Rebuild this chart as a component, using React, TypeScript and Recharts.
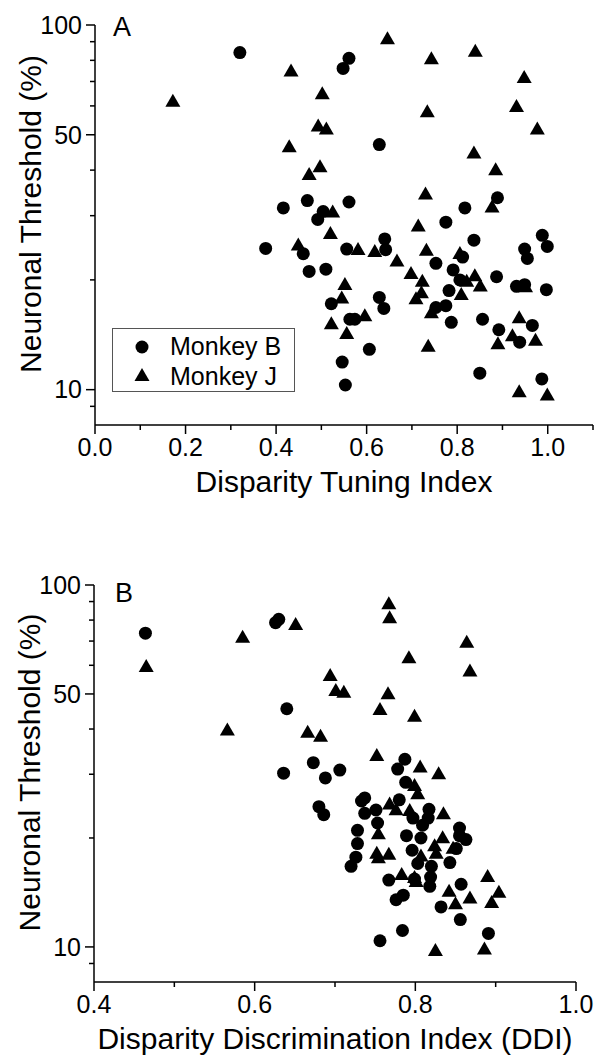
import { ScatterChart, Scatter, XAxis, YAxis, Legend, Label } from "recharts";

const FONT = '"Liberation Sans", Arial, Helvetica, sans-serif';

// Panel A: disparity tuning index vs. neuronal threshold (%)
const dtiMonkeyB: [number, number][] = [
  [0.32, 84], [0.548, 76], [0.561, 81], [0.628, 47], [0.469, 33], [0.416, 31.5],
  [0.561, 32.7], [0.504, 30.8], [0.492, 29.3], [0.377, 24.4], [0.46, 23.6], [0.556, 24.3],
  [0.473, 21.1], [0.51, 21.4], [0.522, 17.2], [0.563, 15.6], [0.546, 11.9], [0.553, 10.3],
  [0.817, 31.5], [0.889, 33.6], [0.775, 28.8], [0.837, 25.7], [0.64, 25.9], [0.642, 24.2],
  [0.812, 23.1], [0.753, 22.2], [0.791, 21.3], [0.806, 20.0], [0.887, 20.4], [0.782, 18.7],
  [0.775, 17.0], [0.753, 16.8], [0.787, 15.3], [0.856, 15.6], [0.931, 19.2], [0.949, 19.4],
  [0.997, 18.8], [0.988, 26.5], [0.999, 24.7], [0.949, 24.3], [0.955, 22.9], [0.892, 14.6],
  [0.966, 15.0], [0.938, 13.5], [0.628, 17.9], [0.638, 16.7], [0.574, 15.6], [0.606, 12.9],
  [0.85, 11.1], [0.987, 10.7],
];
const dtiMonkeyJ: [number, number][] = [
  [0.172, 62], [0.433, 75], [0.502, 65], [0.493, 53], [0.511, 52], [0.429, 46.5],
  [0.497, 41], [0.473, 39], [0.525, 30.8], [0.52, 26.9], [0.449, 25.0], [0.552, 19.5],
  [0.545, 17.9], [0.522, 15.2], [0.556, 14.3], [0.646, 92], [0.743, 81], [0.84, 85],
  [0.948, 72], [0.734, 58], [0.931, 60], [0.977, 52], [0.837, 44.7], [0.885, 40.2],
  [0.73, 34.5], [0.877, 31.8], [0.714, 28.2], [0.581, 24.3], [0.618, 24.0], [0.667, 22.6],
  [0.732, 24.2], [0.806, 23.7], [0.698, 20.9], [0.723, 19.9], [0.721, 18.5], [0.709, 17.8],
  [0.821, 19.9], [0.839, 20.6], [0.851, 19.3], [0.809, 18.3], [0.743, 16.3], [0.951, 19.2],
  [0.937, 15.8], [0.922, 14.1], [0.89, 13.4], [0.973, 13.7], [0.596, 16.0], [0.736, 13.2],
  [0.937, 9.9], [0.999, 9.7],
];

// Panel B: disparity discrimination index (DDI) vs. neuronal threshold (%)
const ddiMonkeyB: [number, number][] = [
  [0.464, 73.6], [0.626, 78.7], [0.63, 80.4], [0.64, 45.5], [0.673, 32.3], [0.636, 30.2],
  [0.706, 30.8], [0.688, 29.3], [0.68, 24.4], [0.686, 23.2], [0.787, 33.0], [0.778, 31.0],
  [0.788, 28.5], [0.737, 25.8], [0.733, 25.3], [0.78, 25.5], [0.751, 23.9], [0.737, 23.4],
  [0.817, 24.0], [0.797, 22.7], [0.816, 22.7], [0.809, 21.7], [0.753, 22.0], [0.855, 21.3],
  [0.728, 21.0], [0.789, 20.3], [0.807, 20.0], [0.863, 19.8], [0.855, 20.3], [0.851, 18.7],
  [0.728, 19.3], [0.796, 18.5], [0.726, 17.7], [0.72, 16.7], [0.803, 17.0], [0.82, 16.7],
  [0.843, 17.1], [0.767, 15.3], [0.799, 15.4], [0.819, 15.6], [0.818, 14.7], [0.857, 14.9],
  [0.785, 13.9], [0.776, 13.5], [0.832, 12.9], [0.856, 11.9], [0.784, 11.1], [0.756, 10.4],
  [0.891, 10.9],
];
const ddiMonkeyJ: [number, number][] = [
  [0.465, 59.7], [0.585, 72.0], [0.651, 78.0], [0.694, 56.4], [0.701, 51.3], [0.711, 50.7],
  [0.566, 39.9], [0.666, 39.3], [0.682, 38.3], [0.767, 89], [0.768, 81.5], [0.864, 69.7],
  [0.868, 58], [0.792, 63.1], [0.766, 50.2], [0.756, 45.4], [0.799, 43.5], [0.752, 33.9],
  [0.806, 31.5], [0.829, 30.2], [0.799, 28.0], [0.803, 26.6], [0.768, 24.9], [0.776, 24.0],
  [0.793, 23.9], [0.835, 23.4], [0.754, 20.6], [0.834, 20.1], [0.824, 19.1], [0.847, 18.8],
  [0.826, 18.2], [0.752, 18.2], [0.767, 18.1], [0.754, 17.7], [0.807, 17.9], [0.783, 15.9],
  [0.799, 15.6], [0.801, 15.2], [0.89, 15.7], [0.904, 14.2], [0.842, 14.3], [0.868, 13.7],
  [0.85, 13.2], [0.895, 13.3], [0.825, 9.8], [0.886, 9.9],
];

const yTicks = [9, 10, 20, 30, 40, 50, 60, 70, 80, 90, 100];
const yLabels = [10, 50, 100];
const dtiTicks = [0, 0.1, 0.2, 0.3, 0.4, 0.5, 0.6, 0.7, 0.8, 0.9, 1.0, 1.1];
const dtiLabels = [0, 0.2, 0.4, 0.6, 0.8, 1.0];
const ddiTicks = [0.4, 0.5, 0.6, 0.7, 0.8, 0.9, 1.0];
const ddiLabels = [0.4, 0.6, 0.8, 1.0];

const toPoints = (rows: [number, number][]) => rows.map(([x, y]) => ({ x, y }));
const isIn = (list: number[], v: number) => list.some((l) => Math.abs(l - v) < 1e-6);

const Dot = (p: any) => <circle cx={p.cx} cy={p.cy} r={6.5} fill="#000" />;
const Tri = (p: any) => (
  <polygon
    points={`${p.cx},${p.cy - 7} ${p.cx + 7.5},${p.cy + 6} ${p.cx - 7.5},${p.cy + 6}`}
    fill="#000"
  />
);

const XTick = ({ x, y, payload, labels, gap }: any) => {
  const major = isIn(labels, payload.value);
  return (
    <g>
      <line x1={x} y1={y} x2={x} y2={y + (major ? 9 : 5)} stroke="#000" strokeWidth={1.5} />
      {major && (
        <text x={x} y={y + gap} dy="0.71em" textAnchor="middle" fontSize={25} fontFamily={FONT} fill="#000">
          {payload.value.toFixed(1)}
        </text>
      )}
    </g>
  );
};

const YTick = ({ x, y, payload }: any) => {
  const major = isIn(yLabels, payload.value);
  return (
    <g>
      <line x1={x} y1={y} x2={x - (major ? 9 : 5)} y2={y} stroke="#000" strokeWidth={1.5} />
      {major && (
        <text x={x - 13} y={y} dy="0.35em" textAnchor="end" fontSize={25} fontFamily={FONT} fill="#000">
          {payload.value}
        </text>
      )}
    </g>
  );
};

const yTitle = (p: any) => {
  const vb = p.viewBox;
  return (
    <text
      transform={`translate(${vb.x - 5},${vb.y + vb.height / 2 - 11}) rotate(-90)`}
      textAnchor="middle"
      dominantBaseline="central"
      fontSize={30}
      fontFamily={FONT}
      fill="#000"
    >
      Neuronal Threshold (%)
    </text>
  );
};

const panelLetter = (letter: string, dx: number, dy: number) => (p: any) => {
  const vb = p.viewBox;
  return (
    <text x={vb.x + vb.width + dx} y={vb.y + dy} fontSize={27} fontFamily={FONT} fill="#000">
      {letter}
    </text>
  );
};

const LegendBox = () => (
  <div style={{ width: 183, height: 64, border: "1px solid #555", boxSizing: "border-box", background: "#fff" }}>
    <svg width={181} height={62} style={{ display: "block" }}>
      <Dot cx={29} cy={18} />
      <text x={57} y={26} fontSize={25} fontFamily={FONT} fill="#000">Monkey B</text>
      <Tri cx={29} cy={46} />
      <text x={57} y={56} fontSize={25} fontFamily={FONT} fill="#000">Monkey J</text>
    </svg>
  </div>
);

const axisLine = { stroke: "#000", strokeWidth: 1.5 };

export default function App() {
  return (
    <div style={{ position: "absolute", left: 0, top: 0, width: 602, height: 1061, background: "#fff" }}>
      <div style={{ position: "absolute", left: 0, top: 0 }}>
        <ScatterChart width={602} height={530} margin={{ top: 25, right: 9, left: 35, bottom: 65 }}>
          <XAxis
            type="number"
            dataKey="x"
            domain={[0, 1.1]}
            ticks={dtiTicks}
            interval={0}
            height={40}
            tickSize={0}
            tickMargin={0}
            tickLine={false}
            axisLine={axisLine}
            tick={(props: any) => <XTick {...props} labels={dtiLabels} gap={13} />}
            label={{ value: "Disparity Tuning Index", position: "bottom", offset: 6, fontSize: 30, fill: "#000", fontFamily: FONT }}
          />
          <YAxis
            type="number"
            dataKey="y"
            scale="log"
            domain={[8, 100]}
            allowDataOverflow
            ticks={yTicks}
            interval={0}
            width={60}
            tickSize={0}
            tickMargin={0}
            tickLine={false}
            axisLine={axisLine}
            tick={(props: any) => <YTick {...props} />}
          >
            <Label content={yTitle} />
            <Label content={panelLetter("A", 18, 11)} />
          </YAxis>
          <Legend
            layout="vertical"
            align="center"
            verticalAlign="middle"
            content={() => <LegendBox />}
            wrapperStyle={{ left: 112, top: 328, width: 183, height: 64 }}
          />
          <Scatter name="Monkey B" data={toPoints(dtiMonkeyB)} shape={Dot} isAnimationActive={false} />
          <Scatter name="Monkey J" data={toPoints(dtiMonkeyJ)} shape={Tri} isAnimationActive={false} />
        </ScatterChart>
      </div>
      <div style={{ position: "absolute", left: 0, top: 530 }}>
        <ScatterChart width={602} height={531} margin={{ top: 55, right: 26, left: 34, bottom: 39 }}>
          <XAxis
            type="number"
            dataKey="x"
            domain={[0.4, 1.0]}
            ticks={ddiTicks}
            interval={0}
            height={40}
            tickSize={0}
            tickMargin={0}
            tickLine={false}
            axisLine={axisLine}
            tick={(props: any) => <XTick {...props} labels={ddiLabels} gap={13} />}
            label={{ value: "Disparity Discrimination Index (DDI)", position: "bottom", offset: 6, fontSize: 30, fill: "#000", fontFamily: FONT }}
          />
          <YAxis
            type="number"
            dataKey="y"
            scale="log"
            domain={[8, 100]}
            allowDataOverflow
            ticks={yTicks}
            interval={0}
            width={60}
            tickSize={0}
            tickMargin={0}
            tickLine={false}
            axisLine={axisLine}
            tick={(props: any) => <YTick {...props} />}
          >
            <Label content={yTitle} />
            <Label content={panelLetter("B", 21, 17)} />
          </YAxis>
          <Scatter name="Monkey B" data={toPoints(ddiMonkeyB)} shape={Dot} isAnimationActive={false} />
          <Scatter name="Monkey J" data={toPoints(ddiMonkeyJ)} shape={Tri} isAnimationActive={false} />
        </ScatterChart>
      </div>
    </div>
  );
}
